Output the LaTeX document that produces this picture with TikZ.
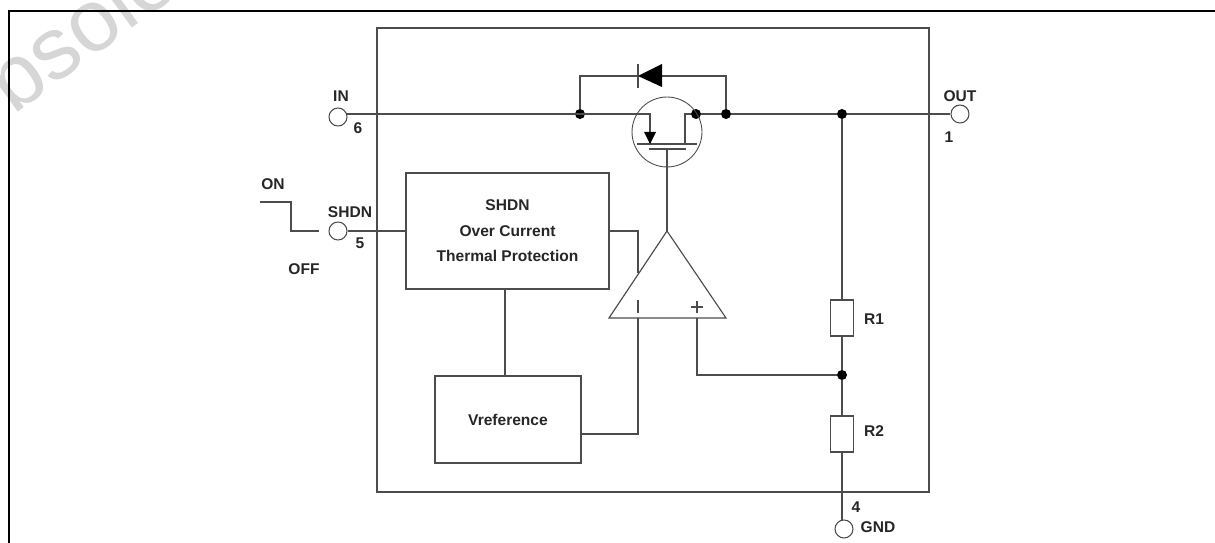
\documentclass[tikz,border=0pt]{standalone}
\usepackage{fontspec}
\setmainfont{Liberation Sans}
\definecolor{wirecol}{gray}{0.3}
\definecolor{markcol}{gray}{0.84}
\tikzset{
    wire/.style={draw=wirecol, line width=0.65pt},
    blockbox/.style={draw=wirecol, line width=0.7pt, inner sep=0pt, align=center},
    resbox/.style={blockbox, minimum width=0.47cm, minimum height=0.72cm},
    pin/.style={circle, draw=wirecol, line width=0.6pt, fill=white, inner sep=0pt, minimum size=0.36cm},
    dot/.style={circle, fill=black, inner sep=0pt, minimum size=0.2cm},
    lbl/.style={font=\fontsize{8.85}{12}\selectfont\bfseries, inner sep=0pt, text=black!85}
}
\begin{document}
\begin{tikzpicture}[x=0.02cm, y=-0.02cm]
    \useasboundingbox (0,0) rectangle (1215,543);

    % Marca d'agua
    \begin{scope}
        \clip (0,0) rectangle (1215,543);
        \node[rotate=36, text=markcol, inner sep=0pt, font=\fontsize{50}{50}\selectfont] (watermark) at (52,48) {Obsole};
    \end{scope}

    % Moldura
    \coordinate (frametop) at (1215,11);
    \coordinate (framecorner) at (9,11);
    \coordinate (framebottom) at (9,543);
    \draw[line width=1.4pt] (frametop) -- (framecorner) -- (framebottom);

    % Chip
    \node[blockbox, minimum width=11.04cm, minimum height=9.28cm] (chip) at (653,260) {};

    % Pinos
    \node[pin] (pinin) at (338,117) {};
    \node[pin] (pinshdn) at (338,231) {};
    \node[pin] (pinout) at (960,114) {};
    \node[pin] (pingnd) at (844,529) {};

    % Blocos
    \node[blockbox, lbl, minimum width=4.06cm, minimum height=2.32cm] (protect) at (507.5,231)
        {SHDN\\[2.6pt]Over Current\\[2.6pt]Thermal Protection};
    \node[blockbox, lbl, minimum width=2.92cm, minimum height=1.74cm] (vref) at (508,419.5) {Vreference};
    \node[resbox] (rone) at (842,318) {};
    \node[resbox] (rtwo) at (842,434) {};

    % Nos
    \node[dot] (dotin) at (580,114) {};
    \node[dot] (dotdrain) at (696,114) {};
    \node[dot] (dotdiode) at (726,114) {};
    \node[dot] (dotout) at (842,114) {};
    \node[dot] (dotfb) at (842,375) {};

    % Linha de entrada ate a saida
    \coordinate (pinstub) at (347,114);
    \coordinate (source) at (650,114);
    \coordinate (drain) at (685,114);
    \coordinate (channelleft) at (637,144);
    \coordinate (channelright) at (697,144);
    \coordinate (sourcelow) at (650,144);
    \coordinate (drainlow) at (685,144);
    \draw[wire] (pinstub) -- (source) -- (sourcelow);
    \draw[wire] (drainlow) -- (drain) -- (dotdrain) -- (dotdiode) -- (dotout) -- (pinout);

    % MOSFET
    \node[circle, draw=wirecol, line width=0.5pt, inner sep=0pt, minimum size=1.4cm] (fet) at (667,132) {};
    \draw[wire] (channelleft) -- (channelright);
    \coordinate (gateleft) at (649,149);
    \coordinate (gateright) at (686,149);
    \coordinate (gatemid) at (667,149);
    \draw[wire] (gateleft) -- (gateright);
    \coordinate (arrowl) at (644,132);
    \coordinate (arrowr) at (656,132);
    \fill (arrowl) -- (arrowr) -- (sourcelow) -- cycle;

    % Diodo
    \coordinate (diodeleft) at (580,76);
    \coordinate (dioderight) at (726,76);
    \coordinate (diodetip) at (638,76);
    \coordinate (diodebase) at (662,76);
    \coordinate (diodeup) at (662,64);
    \coordinate (diodedown) at (662,87);
    \coordinate (barup) at (638,64);
    \coordinate (bardown) at (638,88);
    \draw[wire] (dotin) -- (diodeleft) -- (diodetip);
    \draw[wire] (dotdiode) -- (dioderight) -- (diodebase);
    \draw[wire] (barup) -- (bardown);
    \fill (diodetip) -- (diodeup) -- (diodedown) -- cycle;

    % Amplificador
    \coordinate (ampapex) at (667,231);
    \coordinate (ampleft) at (609,318);
    \coordinate (ampright) at (726,318);
    \draw[wire] (ampapex) -- (ampleft) -- (ampright) -- cycle;
    \draw[wire] (gatemid) -- (ampapex);
    \coordinate (minustop) at (638,300);
    \coordinate (minuslow) at (638,313);
    \draw[wire] (minustop) -- (minuslow);
    \coordinate (plustop) at (697,301);
    \coordinate (pluslow) at (697,313);
    \coordinate (plusleft) at (691,307);
    \coordinate (plusright) at (703,307);
    \draw[wire] (plustop) -- (pluslow);
    \draw[wire] (plusleft) -- (plusright);

    % Ligacoes
    \coordinate (protectright) at (638,231);
    \coordinate (ampside) at (638,273);
    \draw[wire] (protect.east) -- (protectright) -- (ampside);
    \draw[wire] (pinshdn) -- (protect.west);
    \coordinate (vrefup) at (505,289);
    \coordinate (vrefdown) at (505,376);
    \draw[wire] (vrefup) -- (vrefdown);
    \coordinate (vrefcorner) at (638,434);
    \coordinate (vrefout) at (581,434);
    \coordinate (ampminus) at (638,318);
    \draw[wire] (vrefout) -- (vrefcorner) -- (ampminus);
    \coordinate (ampplus) at (697,318);
    \coordinate (fbcorner) at (697,375);
    \draw[wire] (ampplus) -- (fbcorner) -- (dotfb);
    \draw[wire] (dotout) -- (rone) -- (dotfb) -- (rtwo);
    \coordinate (gndtop) at (842,521);
    \draw[wire] (rtwo) -- (gndtop);

    % Sinal ON/OFF
    \coordinate (stepa) at (260,202);
    \coordinate (stepb) at (291,202);
    \coordinate (stepc) at (291,231);
    \coordinate (stepd) at (319,231);
    \draw[wire] (stepa) -- (stepb) -- (stepc) -- (stepd);

    % Rotulos
    \node[lbl] (lblin) at (341,96) {IN};
    \node[lbl] (lblsix) at (358,128) {6};
    \node[lbl] (lblon) at (273,184) {ON};
    \node[lbl] (lblshdn) at (350,212) {SHDN};
    \node[lbl] (lblfive) at (360,243) {5};
    \node[lbl] (lbloff) at (304,269) {OFF};
    \node[lbl] (lblout) at (960,96) {OUT};
    \node[lbl] (lblone) at (949,137) {1};
    \node[lbl] (lblrone) at (874,319) {R1};
    \node[lbl] (lblrtwo) at (874,431) {R2};
    \node[lbl] (lblfour) at (856,507) {4};
    \node[lbl] (lblgnd) at (878,527) {GND};
\end{tikzpicture}
\end{document}
